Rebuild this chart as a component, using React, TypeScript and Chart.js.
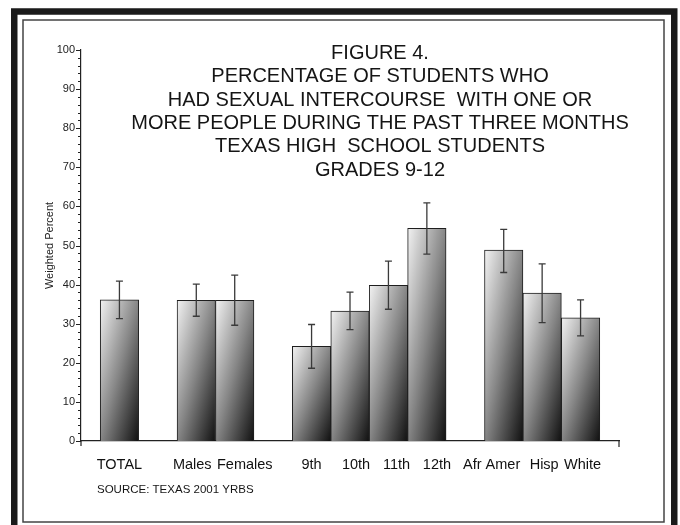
import React, { useEffect, useRef } from 'react';
import { Chart, registerables } from 'chart.js';

Chart.register(...registerables);

const FONT = "'Liberation Sans', Arial, Helvetica, sans-serif";

// Category slots (empty strings are the gaps between groups)
const categories = ["", "TOTAL", "", "Males", "Females", "", "9th", "10th", "11th", "12th", "", "Afr Amer", "Hisp", "White", ""];
const percentValues = [null, 36.1, null, 36.0, 36.0, null, 24.2, 33.2, 39.8, 54.4, null, 48.8, 37.8, 31.5, null];
const ciLower = [null, 31.3, null, 31.9, 29.6, null, 18.6, 28.5, 33.7, 47.8, null, 43.1, 30.3, 26.9, null];
const ciUpper = [null, 40.9, null, 40.1, 42.4, null, 29.8, 38.1, 46.0, 60.9, null, 54.1, 45.3, 36.1, null];

// typographic padding of the tick labels (spaces: + leading, - trailing), as typed in the original
const labelSpacePad = [0, 0, 0, -2, 5, 0, 0, 3, 4, 5, 0, -6, 1, 1, 0];

const yMin = 0;
const yMax = 100;
const yMinorStep = 2;
const yMajorStep = 10;

const titleLines = [
  "FIGURE 4.",
  "PERCENTAGE OF STUDENTS WHO",
  "HAD SEXUAL INTERCOURSE  WITH ONE OR",
  "MORE PEOPLE DURING THE PAST THREE MONTHS",
  "TEXAS HIGH  SCHOOL STUDENTS",
  "GRADES 9-12",
];
const sourceNote = "SOURCE: TEXAS 2001 YRBS";
const yAxisTitle = "Weighted Percent";

function padLabel(label: string, pad: number) {
  if (!label) return label;
  return pad > 0 ? ' '.repeat(pad) + label : label + ' '.repeat(-pad);
}

function barGradient(context: any) {
  const chart = context.chart;
  const i = context.dataIndex;
  const v = percentValues[i];
  const xs = chart.scales?.x;
  const ys = chart.scales?.y;
  if (!xs || !ys || v == null || !chart.chartArea) return '#888888';
  const cx = xs.getPixelForValue(i);
  const w = Math.abs(xs.getPixelForValue(1) - xs.getPixelForValue(0)) || 1;
  const l = cx - w / 2;
  const t = ys.getPixelForValue(v);
  const b = ys.getPixelForValue(0);
  const h = Math.max(b - t, 1);
  const s = (2 * w * h) / (w * w + h * h);
  const g = chart.ctx.createLinearGradient(l, t, l + h * s, t + w * s);
  g.addColorStop(0, '#f2f2f2');
  g.addColorStop(0.5, '#868686');
  g.addColorStop(1, '#101010');
  return g;
}

const decorPlugin = {
  id: 'decor',
  beforeDraw(chart: any) {
    const ctx = chart.ctx;
    ctx.save();
    ctx.fillStyle = '#ffffff';
    ctx.fillRect(0, 0, chart.width, chart.height);
    // outer thick frame
    ctx.strokeStyle = '#1a1a1a';
    ctx.lineWidth = 6.5;
    ctx.strokeRect(14.25, 11.5, 660, 540);
    // inner thin frame
    ctx.strokeStyle = '#444444';
    ctx.lineWidth = 1.5;
    ctx.strokeRect(23, 20, 641, 502);
    ctx.restore();
  },
  afterDatasetsDraw(chart: any) {
    const ctx = chart.ctx;
    const ys = chart.scales.y;
    const meta = chart.getDatasetMeta(0);
    ctx.save();
    ctx.strokeStyle = '#3a3a3a';
    ctx.lineWidth = 1.3;
    percentValues.forEach((v, i) => {
      if (v == null) return;
      const el = meta.data[i];
      if (!el) return;
      const x = el.x;
      const yH = ys.getPixelForValue(ciUpper[i] as number);
      const yL = ys.getPixelForValue(ciLower[i] as number);
      ctx.beginPath();
      ctx.moveTo(x, yH);
      ctx.lineTo(x, yL);
      ctx.moveTo(x - 3.5, yH);
      ctx.lineTo(x + 3.5, yH);
      ctx.moveTo(x - 3.5, yL);
      ctx.lineTo(x + 3.5, yL);
      ctx.stroke();
    });
    ctx.restore();
  },
  afterDraw(chart: any) {
    const ctx = chart.ctx;
    const ys = chart.scales.y;
    const area = chart.chartArea;
    ctx.save();
    // y ticks (major and minor) on the left of the axis
    ctx.strokeStyle = '#222222';
    ctx.lineWidth = 1;
    ys.ticks.forEach((t: any) => {
      const y = Math.round(ys.getPixelForValue(t.value)) + 0.5;
      const len = t.value % yMajorStep === 0 ? 5 : 3;
      ctx.beginPath();
      ctx.moveTo(area.left - len, y);
      ctx.lineTo(area.left, y);
      ctx.stroke();
    });
    // axis end ticks
    ctx.lineWidth = 1.2;
    ctx.beginPath();
    ctx.moveTo(area.left, area.bottom);
    ctx.lineTo(area.left, area.bottom + 5);
    ctx.moveTo(area.right, area.bottom);
    ctx.lineTo(area.right, area.bottom + 6);
    ctx.stroke();

    // title
    ctx.fillStyle = '#151515';
    ctx.font = `20px ${FONT}`;
    ctx.textAlign = 'center';
    ctx.textBaseline = 'alphabetic';
    titleLines.forEach((line, i) => {
      ctx.fillText(line, 380, 59 + i * 23.3);
    });

    // source note
    ctx.font = `11.5px ${FONT}`;
    ctx.textAlign = 'left';
    ctx.textBaseline = 'middle';
    ctx.fillText(sourceNote, 97, 490);
    ctx.restore();
  },
};

export default function App() {
  const ref = useRef<HTMLCanvasElement>(null);
  useEffect(() => {
    const chart = new Chart(ref.current as HTMLCanvasElement, {
      type: 'bar',
      data: {
        labels: categories,
        datasets: [
          {
            data: percentValues as any,
            backgroundColor: barGradient as any,
            borderColor: '#1e1e1e',
            borderWidth: 1,
            barPercentage: 1,
            categoryPercentage: 1,
          },
        ],
      },
      plugins: [decorPlugin],
      options: {
        responsive: false,
        animation: false,
        devicePixelRatio: 1,
        layout: { padding: { left: 43.4, top: 50, right: 61, bottom: 44 } },
        plugins: {
          legend: { display: false },
          tooltip: { enabled: false },
          title: { display: false },
        },
        scales: {
          x: {
            type: 'category',
            offset: false,
            grid: { display: false, drawTicks: false, offset: false },
            border: { display: true, color: '#222222', width: 1.2 },
            ticks: {
              autoSkip: false,
              maxRotation: 0,
              minRotation: 0,
              padding: 15,
              color: '#111111',
              font: { family: FONT, size: 14.5 },
              callback: (_v: any, index: number) => padLabel(categories[index], labelSpacePad[index]),
            },
            afterFit: (scale: any) => {
              scale.height = 40;
            },
          },
          y: {
            min: yMin,
            max: yMax,
            grid: { display: false, drawTicks: false },
            border: { display: true, color: '#222222', width: 1.2 },
            ticks: {
              stepSize: yMinorStep,
              autoSkip: false,
              padding: 6,
              color: '#222222',
              font: { family: FONT, size: 11 },
              callback: (v: any) => (Number(v) % yMajorStep === 0 ? String(v) : ''),
            },
            title: {
              display: true,
              text: yAxisTitle,
              color: '#222222',
              padding: 0,
              font: { family: FONT, size: 11 },
            },
            afterFit: (scale: any) => {
              scale.width = 37.6;
            },
          },
        },
      },
    });
    return () => chart.destroy();
  }, []);
  return (
    <canvas
      ref={ref}
      width={680}
      height={525}
      style={{ position: 'absolute', left: 0, top: 0, width: 680, height: 525, display: 'block' }}
    />
  );
}
